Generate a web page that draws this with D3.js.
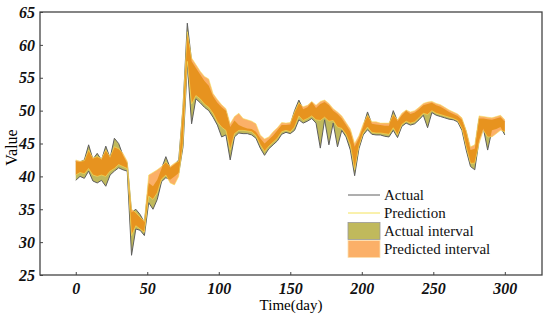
<!DOCTYPE html>
<html>
<head>
<meta charset="utf-8">
<script src="https://cdn.jsdelivr.net/npm/d3@7"></script>
<style>
  body { margin: 0; background: #fff; }
  svg { font-family: "Liberation Serif", "Times New Roman", serif; }
</style>
</head>
<body>
<div id="chart"></div>
<script>
// values, one every 3 days (day 0 .. 300)
const actualLow = [39.4,40.0,39.7,40.8,39.3,39.0,39.4,38.5,40.2,40.8,
  41.3,41.0,40.8,28.0,32.0,31.8,31.0,36.0,35.0,36.5,
  39.2,39.8,39.5,40.0,40.5,44.5,57.0,48.0,51.8,51.2,
  50.5,50.0,49.0,47.8,46.0,46.3,42.5,46.0,46.6,46.5,
  46.5,46.3,45.8,44.3,43.2,44.2,44.8,45.4,46.4,46.7,
  46.5,47.0,48.6,48.1,48.4,48.8,48.1,44.3,48.6,44.8,
  48.1,44.5,47.0,46.0,44.0,40.1,44.2,46.3,47.1,46.4,
  46.3,46.3,46.1,46.0,47.0,45.9,47.6,48.1,47.8,48.0,
  48.6,49.3,47.4,49.7,49.3,49.1,48.9,48.7,48.6,48.3,
  47.0,44.0,41.5,41.0,45.5,47.3,44.0,47.0,47.2,47.5,
  46.3];
const actualHigh = [42.3,42.2,42.5,44.8,42.6,43.5,42.5,44.6,42.8,45.8,
  45.0,43.2,42.0,34.5,35.0,34.2,33.0,39.0,38.5,39.5,
  41.2,43.0,41.3,41.8,42.5,50.5,63.3,57.5,56.5,55.5,
  54.5,53.8,52.2,51.2,50.5,50.0,47.5,48.5,47.8,47.5,
  47.3,47.2,46.8,45.8,45.0,45.6,46.2,47.0,47.8,47.8,
  47.9,50.0,51.6,50.2,50.5,51.3,50.4,51.0,51.3,50.8,
  50.0,49.5,48.8,47.8,46.8,44.5,45.8,47.6,49.8,48.0,
  47.9,47.8,47.7,47.7,50.0,48.4,49.3,50.0,49.5,49.7,
  50.2,50.8,51.0,51.2,50.8,50.6,50.2,49.8,49.5,49.2,
  48.6,46.8,44.0,44.2,48.8,48.8,48.7,48.6,48.8,49.0,
  48.3];
const predLow = [40.2,40.6,40.4,41.2,40.2,40.0,40.2,40.0,40.8,41.2,
  41.8,41.5,41.2,31.0,32.5,32.0,31.5,37.0,36.5,37.5,
  39.6,40.2,39.0,38.7,40.0,45.0,57.5,51.0,52.3,51.8,
  51.0,50.5,49.6,48.3,47.5,47.0,44.0,46.5,47.0,47.0,
  46.9,46.8,46.2,44.8,43.8,44.6,45.2,45.8,46.8,47.0,
  46.8,47.5,49.2,48.5,48.8,49.2,48.6,48.5,49.0,48.4,
  48.5,47.5,47.3,46.4,44.8,41.0,44.6,46.6,47.5,46.7,
  46.6,46.6,46.5,46.4,47.4,46.3,47.9,48.4,48.1,48.3,
  48.9,49.6,49.4,50.0,49.6,49.4,49.2,49.0,48.8,48.5,
  47.3,44.5,42.0,42.0,45.0,47.0,46.0,46.0,46.5,47.0,
  46.8];
const predHigh = [42.5,42.3,42.4,44.0,42.8,43.0,42.7,44.0,43.0,44.5,
  44.2,43.5,42.3,35.0,34.5,33.8,33.2,40.2,40.6,41.0,
  41.5,42.2,41.5,42.0,42.3,51.0,62.0,58.0,57.0,56.0,
  55.2,54.8,52.6,51.7,50.9,50.3,48.0,49.1,49.6,48.8,
  48.6,48.4,48.0,46.3,45.7,46.0,46.8,47.4,48.2,48.1,
  48.2,49.8,51.2,50.6,50.8,51.4,50.8,51.4,51.6,51.1,
  50.3,49.8,49.2,48.2,47.2,45.0,46.2,48.0,49.3,48.3,
  48.3,48.1,48.1,48.1,49.4,48.6,49.6,50.1,49.8,50.0,
  50.5,51.1,51.3,51.4,51.1,50.9,50.5,50.1,49.8,49.5,
  48.9,47.0,44.5,44.8,49.2,49.1,49.0,48.9,49.1,49.3,
  48.6];
const xTicks = [0, 50, 100, 150, 200, 250, 300];
const yTicks = [25, 30, 35, 40, 45, 50, 55, 60, 65];
const legendItems = ["Actual", "Prediction", "Actual interval", "Predicted interval"];

const days = d3.range(0, 301, 3);
const rows = days.map((d, i) => ({
  day: d, aLo: actualLow[i], aHi: actualHigh[i], pLo: predLow[i], pHi: predHigh[i]
}));

const width = 550, height = 321;
const margin = {top: 12, right: 8, bottom: 46, left: 40};
const serif = "'Liberation Serif', 'Times New Roman', 'DejaVu Serif', serif";

const svg = d3.select("#chart").append("svg")
    .attr("width", width)
    .attr("height", height);

const x = d3.scaleLinear().domain([-25, 326]).range([margin.left, width - margin.right]);
const y = d3.scaleLinear().domain([25, 65]).range([height - margin.bottom, margin.top]);

const olive = "#c0b95c", orangeLight = "#fbb068", orangeDark = "#e7931f",
      grey = "#5e5e5e", yellow = "#f4e35a";

const area = (lo, hi) => d3.area().x(d => x(d.day)).y0(d => y(d[lo])).y1(d => y(d[hi]));
const line = key => d3.line().x(d => x(d.day)).y(d => y(d[key]));

// where the two intervals overlap the orange is darker
svg.append("clipPath").attr("id", "actualClip")
  .append("path").datum(rows).attr("d", area("aLo", "aHi"));

svg.append("path").datum(rows)
    .attr("d", area("aLo", "aHi"))
    .attr("fill", olive);

["aLo", "aHi"].forEach(k => svg.append("path").datum(rows)
    .attr("d", line(k))
    .attr("fill", "none")
    .attr("stroke", grey)
    .attr("stroke-width", 1));

svg.append("path").datum(rows)
    .attr("d", area("pLo", "pHi"))
    .attr("fill", orangeLight);

svg.append("path").datum(rows)
    .attr("d", area("pLo", "pHi"))
    .attr("clip-path", "url(#actualClip)")
    .attr("fill", orangeDark);

["pLo", "pHi"].forEach(k => svg.append("path").datum(rows)
    .attr("d", line(k))
    .attr("fill", "none")
    .attr("stroke", yellow)
    .attr("stroke-opacity", 0.7)
    .attr("stroke-width", 0.8));

// axes
const gx = svg.append("g")
    .attr("transform", `translate(0,${height - margin.bottom})`)
    .call(d3.axisBottom(x).tickValues(xTicks).tickSize(-3).tickPadding(8));
const gy = svg.append("g")
    .attr("transform", `translate(${margin.left},0)`)
    .call(d3.axisLeft(y).tickValues(yTicks).tickSize(-3).tickPadding(5));

[gx, gy].forEach(g => {
  g.attr("font-family", serif)
   .attr("font-size", 16)
   .attr("font-weight", "bold")
   .attr("font-style", "italic");
  g.select(".domain").remove();
  g.selectAll(".tick line").attr("stroke", "#444");
  g.selectAll(".tick text").attr("fill", "#111");
});

svg.append("rect")
    .attr("x", margin.left).attr("y", margin.top)
    .attr("width", width - margin.left - margin.right)
    .attr("height", height - margin.top - margin.bottom)
    .attr("fill", "none")
    .attr("stroke", "#444")
    .attr("stroke-width", 1.3);

svg.append("text")
    .attr("x", (margin.left + width - margin.right) / 2)
    .attr("y", 310)
    .attr("text-anchor", "middle")
    .attr("font-family", serif)
    .attr("font-size", 15)
    .text("Time(day)");

svg.append("text")
    .attr("transform", `translate(17,${(margin.top + height - margin.bottom) / 2 + 4}) rotate(-90)`)
    .attr("text-anchor", "middle")
    .attr("font-family", serif)
    .attr("font-size", 16)
    .text("Value");

// legend
const lg = svg.append("g").attr("transform", "translate(348,0)");
const rowY = [195, 213, 231, 249];
legendItems.forEach((name, i) => {
  if (i < 2) {
    lg.append("line")
        .attr("x1", 0).attr("x2", 32)
        .attr("y1", rowY[i]).attr("y2", rowY[i])
        .attr("stroke", i === 0 ? grey : yellow)
        .attr("stroke-width", 1);
  } else {
    lg.append("rect")
        .attr("x", 0).attr("y", rowY[i] - 8.5)
        .attr("width", 32).attr("height", 17)
        .attr("fill", i === 2 ? olive : orangeLight)
        .attr("stroke", i === 2 ? "#999" : "#fde0b0")
        .attr("stroke-width", 0.8);
  }
  lg.append("text")
      .attr("x", 36).attr("y", rowY[i] + 5)
      .attr("font-family", serif)
      .attr("font-size", 15)
      .attr("fill", "#111")
      .text(name);
});
</script>
</body>
</html>
